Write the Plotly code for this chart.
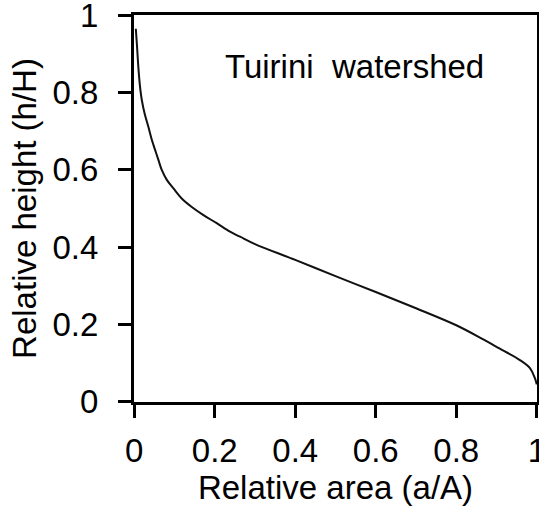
import plotly.graph_objects as go

# Hypsometric curve of the Tuirini watershed
relative_area = [0.004, 0.007, 0.010, 0.014, 0.019, 0.026, 0.035, 0.0439, 0.0521,
                 0.0603, 0.0687, 0.081, 0.0975, 0.118, 0.143, 0.172, 0.205, 0.238,
                 0.263, 0.300, 0.400, 0.500, 0.600, 0.700, 0.800, 0.866,
                 0.900, 0.958, 0.983, 0.995, 1.000]
relative_height = [0.965, 0.920, 0.870, 0.820, 0.780, 0.745, 0.712, 0.677, 0.651,
                   0.625, 0.599, 0.574, 0.552, 0.526, 0.504, 0.483, 0.462, 0.440,
                   0.427, 0.408, 0.367, 0.325, 0.284, 0.242, 0.198, 0.162,
                   0.142, 0.108, 0.087, 0.062, 0.045]

tick_vals = [0, 0.2, 0.4, 0.6, 0.8, 1]
tick_text = ["0", "0.2", "0.4", "0.6", "0.8", "1"]

FONT = "Liberation Sans, Arial, sans-serif"
SIZE = 33

fig = go.Figure()
fig.add_trace(go.Scatter(
    x=relative_area, y=relative_height, mode="lines",
    line=dict(color="#111111", width=2, shape="spline", smoothing=1.0),
    showlegend=False, hoverinfo="skip",
))

axis_common = dict(
    range=[-0.0005, 1.0005], tickvals=tick_vals, ticktext=tick_text,
    showgrid=False, zeroline=False, automargin=False,
    showline=True, linecolor="black", linewidth=3, mirror=True,
    ticks="outside", ticklen=13, tickwidth=3, tickcolor="black",
    ticklabeloverflow="allow",
    tickfont=dict(family=FONT, size=SIZE, color="black"),
)

fig.update_xaxes(**axis_common, ticklabelstandoff=4,
                 title=dict(text="Relative area (a/A)", standoff=6,
                            font=dict(family=FONT, size=SIZE, color="black")))
fig.update_yaxes(**axis_common, ticklabelstandoff=13,
                 title=dict(text="Relative height (h/H)", standoff=6,
                            font=dict(family=FONT, size=SIZE, color="black")))

fig.add_annotation(
    x=0.548, y=0.867, xref="x", yref="y",
    text="Tuirini\u00a0 watershed", showarrow=False,
    font=dict(family=FONT, size=SIZE, color="black"),
)

fig.update_layout(
    width=539, height=515,
    margin=dict(l=134, r=2, t=15, b=113),
    paper_bgcolor="white", plot_bgcolor="white",
)

fig.write_html("out.html")
